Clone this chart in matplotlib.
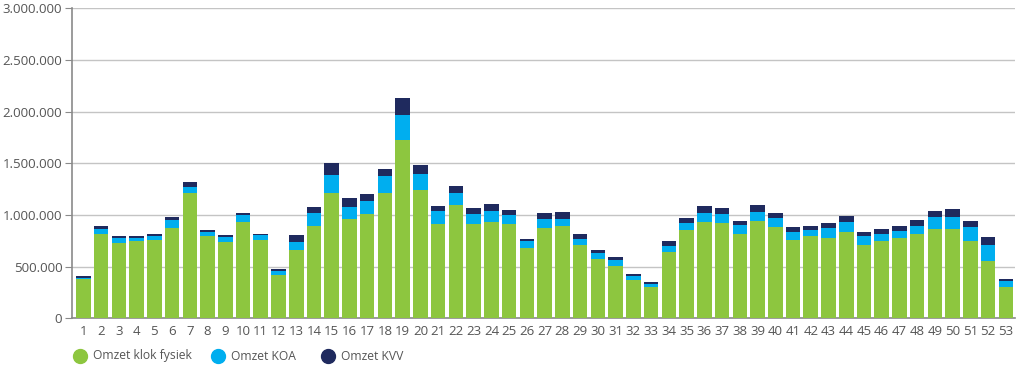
import matplotlib.pyplot as plt
from matplotlib.lines import Line2D
from matplotlib.ticker import FuncFormatter
import numpy as np

weeks = list(range(1, 54))
series_names = ['Omzet klok fysiek', 'Omzet KOA', 'Omzet KVV']

# totals (top of each stacked segment), in millions
klok_top = [0.376, 0.813, 0.729, 0.748, 0.758, 0.874, 1.210, 0.797, 0.739, 0.929,
            0.758, 0.416, 0.661, 0.897, 1.216, 0.958, 1.010, 1.210, 1.726, 1.242,
            0.913, 1.094, 0.916, 0.935, 0.913, 0.681, 0.877, 0.897, 0.710, 0.577,
            0.506, 0.368, 0.300, 0.645, 0.852, 0.932, 0.923, 0.819, 0.942, 0.887,
            0.761, 0.797, 0.780, 0.839, 0.710, 0.751, 0.777, 0.819, 0.868, 0.865,
            0.751, 0.558, 0.303]
koa_top = [0.393, 0.864, 0.777, 0.777, 0.797, 0.949, 1.268, 0.835, 0.790, 1.000,
           0.803, 0.458, 0.742, 1.016, 1.384, 1.074, 1.135, 1.374, 1.968, 1.394,
           1.039, 1.216, 1.007, 1.042, 1.000, 0.751, 0.961, 0.961, 0.771, 0.635,
           0.561, 0.412, 0.335, 0.703, 0.923, 1.016, 1.013, 0.903, 1.026, 0.974,
           0.839, 0.855, 0.871, 0.935, 0.794, 0.816, 0.848, 0.894, 0.981, 0.984,
           0.887, 0.710, 0.358]
kvv_top = [0.412, 0.897, 0.797, 0.800, 0.816, 0.978, 1.319, 0.855, 0.803, 1.022,
           0.816, 0.477, 0.806, 1.074, 1.503, 1.162, 1.203, 1.442, 2.133, 1.487,
           1.087, 1.278, 1.068, 1.104, 1.048, 0.771, 1.016, 1.029, 0.816, 0.658,
           0.593, 0.429, 0.351, 0.745, 0.971, 1.087, 1.068, 0.942, 1.097, 1.022,
           0.884, 0.891, 0.923, 0.993, 0.835, 0.861, 0.897, 0.952, 1.039, 1.055,
           0.942, 0.784, 0.384]

omzet_klok = np.array(klok_top) * 1e6
omzet_koa = (np.array(koa_top) - np.array(klok_top)) * 1e6
omzet_kvv = (np.array(kvv_top) - np.array(koa_top)) * 1e6

green = '#8dc63f'
blue = '#00aeef'
navy = '#1f2a5e'
grey = '#8a8a8a'

plt.rcParams['font.family'] = ['Open Sans', 'DejaVu Sans']

fig = plt.figure(figsize=(10.24, 3.67), dpi=100)
ax = fig.add_axes([0.0703, 0.1327, 0.9207, 0.8447])

w = 0.82
ax.bar(weeks, omzet_klok, w, color=green, zorder=3)
ax.bar(weeks, omzet_koa, w, bottom=omzet_klok, color=blue, zorder=3)
ax.bar(weeks, omzet_kvv, w, bottom=omzet_klok + omzet_koa, color=navy, zorder=3)

ax.set_xlim(0.36, 53.5)
ax.set_ylim(0, 3000000)
ax.set_yticks(np.arange(0, 3000001, 500000))
ax.yaxis.set_major_formatter(FuncFormatter(lambda v, p: f'{int(v):,}'.replace(',', '.')))
ax.set_xticks(weeks)
ax.grid(axis='y', color='#c4c4c4', linewidth=1, zorder=0)

for s in ['top', 'right']:
    ax.spines[s].set_visible(False)
ax.spines['left'].set_color(grey)
ax.spines['bottom'].set_color(grey)
ax.spines['left'].set_linewidth(1.2)
ax.spines['bottom'].set_linewidth(1.2)
ax.tick_params(axis='y', length=5, color=grey, labelsize=9.5, labelcolor='#555555', pad=2)
ax.tick_params(axis='x', length=0, labelsize=9.5, labelcolor='#555555', pad=5)

# legend entries laid out by hand so the spacing follows the original
leg_x = [80, 218, 328]
leg_y = 1 - 356 / 367
for x, c, name in zip(leg_x, (green, blue, navy), series_names):
    fig.add_artist(Line2D([x / 1024], [leg_y], marker='o', ls='', markersize=10,
                          color=c, transform=fig.transFigure))
    fig.text((x + 13) / 1024, leg_y, name, fontsize=8.7, color='#555555',
             va='center', ha='left')

fig.savefig('out.png', dpi=100)
